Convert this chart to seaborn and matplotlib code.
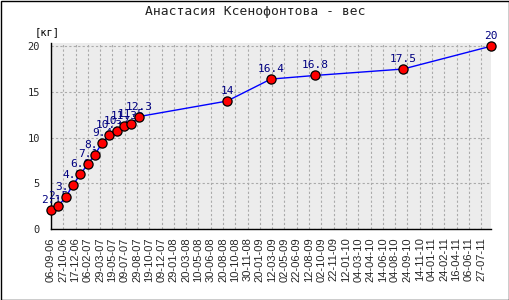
import matplotlib
matplotlib.use("Agg")
import matplotlib.pyplot as plt
import matplotlib.dates as mdates
from matplotlib.patches import Rectangle
from matplotlib.ticker import MultipleLocator
import pandas as pd
import seaborn as sns

# ---- data ----
dates = ["06-09-06", "06-10-06", "06-11-06", "06-12-06", "06-01-07", "06-02-07",
         "06-03-07", "06-04-07", "06-05-07", "06-06-07", "06-07-07", "06-08-07",
         "06-09-07", "06-09-08", "06-03-09", "06-09-09", "06-09-10", "06-09-11"]
weights = [2.1, 2.5, 3.5, 4.8, 6.0, 7.1, 8.1, 9.4, 10.3, 10.7, 11.3, 11.5,
           12.3, 14, 16.4, 16.8, 17.5, 20]
point_labels = ["2.1", "2.5", "3.5", "4.8", "6.0", "7.1", "8.1", "9.4", "10.3",
                "10.7", "11.3", "11.5", "12.3", "14", "16.4", "16.8", "17.5", "20"]
x_tick_labels = ["06-09-06", "27-10-06", "17-12-06", "06-02-07", "29-03-07", "19-05-07",
                 "09-07-07", "29-08-07", "19-10-07", "09-12-07", "29-01-08", "20-03-08",
                 "10-05-08", "30-06-08", "20-08-08", "10-10-08", "30-11-08", "20-01-09",
                 "12-03-09", "02-05-09", "22-06-09", "12-08-09", "02-10-09", "22-11-09",
                 "12-01-10", "04-03-10", "24-04-10", "14-06-10", "04-08-10", "24-09-10",
                 "14-11-10", "04-01-11", "24-02-11", "16-04-11", "06-06-11", "27-07-11"]
y_ticks = [0, 5, 10, 15, 20]
title = "Анастасия Ксенофонтова - вес"
unit = "[кг]"

df = pd.DataFrame({"date": pd.to_datetime(dates, format="%d-%m-%y"), "weight": weights})
tick_pos = pd.to_datetime(x_tick_labels, format="%d-%m-%y")

sns.set_style("white")
mono = ["DejaVu Sans Mono"]
plt.rcParams["font.family"] = ["DejaVu Sans"]

W, H = 510, 300
fig = plt.figure(figsize=(W / 100, H / 100), dpi=100)
fig.patch.set_facecolor("white")
ax = fig.add_axes([51 / W, 1 - 229 / H, (491 - 51) / W, (229 - 43) / H])
ax.set_facecolor("#ececec")

sns.lineplot(data=df, x="date", y="weight", ax=ax, color="#0000ff", linewidth=1,
             marker="o", markersize=6.6, markerfacecolor="#ff0000",
             markeredgecolor="black", markeredgewidth=0.9, clip_on=False, zorder=4)

for d, w, lab in zip(df["date"], df["weight"], point_labels):
    ax.annotate(lab, (d, w), xytext=(0, 5), textcoords="offset pixels",
                ha="center", va="bottom", fontsize=8, family=mono,
                color="#000080", zorder=3, annotation_clip=False)

ax.set_xlim(df["date"].iloc[0], df["date"].iloc[-1])
ax.set_ylim(0, 20.35)

ax.set_xticks(tick_pos)
ax.set_xticklabels(x_tick_labels, rotation=90, fontsize=8, family=["Liberation Sans"])
ax.set_yticks(y_ticks)
ax.set_yticklabels([str(v) for v in y_ticks], fontsize=7.5, family=mono)
ax.yaxis.set_minor_locator(MultipleLocator(1))

ax.tick_params(axis="x", direction="in", length=4, width=0.8, color="black", pad=6)
ax.tick_params(axis="y", which="both", direction="in", length=4, width=0.8, color="black", pad=8)
ax.tick_params(axis="y", which="minor", length=3)

ax.grid(True, which="major", color="#aaaaaa", linestyle=(0, (2, 2)), linewidth=0.8)
ax.set_axisbelow(True)
ax.set_xlabel("")
ax.set_ylabel("")

for s in ["top", "right"]:
    ax.spines[s].set_visible(False)
for s in ["left", "bottom"]:
    ax.spines[s].set_color("black")
    ax.spines[s].set_linewidth(1)

fig.text(255 / W, 1 - 12 / H, title, ha="center", va="center", fontsize=9.4, family=mono, color="#222222")
fig.text(47 / W, 1 - 32 / H, unit, ha="center", va="center", fontsize=7.5, family=mono, color="black")

fig.patches.append(Rectangle((0.5 / W, 0.5 / H), 1 - 1.5 / W, 1 - 1.5 / H, transform=fig.transFigure,
                             fill=False, edgecolor="black", linewidth=1.0))

fig.savefig("out.png", dpi=100)
